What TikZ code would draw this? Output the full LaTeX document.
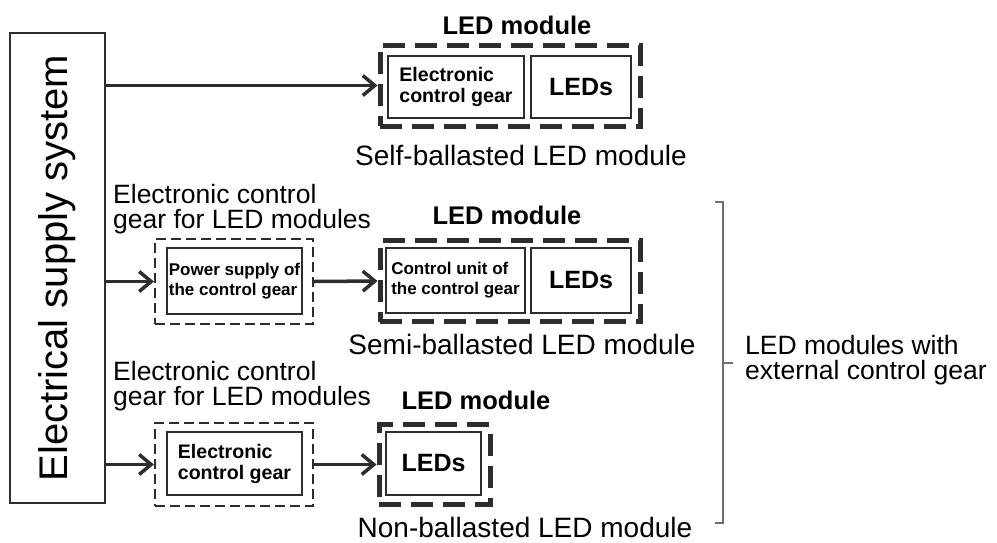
\documentclass[tikz,border=0pt]{standalone}
\usepackage{fontspec}
\setmainfont{Liberation Sans}
\usetikzlibrary{shapes,arrows,arrows.meta,positioning,calc}
\definecolor{linecolor}{RGB}{45,45,45}
\definecolor{bracecolor}{RGB}{110,110,110}

\begin{document}
\begin{tikzpicture}[
    x=1pt, y=-1pt,
    supplybox/.style={rectangle, draw=linecolor, line width=1.5pt, inner sep=0pt},
    innerbox/.style={rectangle, draw=linecolor, line width=1.5pt, inner sep=0pt, align=left},
    modbox/.style={rectangle, draw=linecolor, line width=5pt, dash pattern=on 22pt off 10pt, inner sep=0pt},
    gearbox/.style={rectangle, draw=linecolor, line width=2.2pt, dash pattern=on 10pt off 5pt, inner sep=0pt},
    boxtxt/.style={font=\fontsize{19.6}{21}\selectfont\bfseries},
    smalltxt/.style={font=\fontsize{17}{20}\selectfont\bfseries},
    ledtxt/.style={font=\fontsize{25}{25}\selectfont\bfseries},
    modtitle/.style={font=\fontsize{25.5}{25.5}\selectfont\bfseries},
    caption/.style={font=\fontsize{28}{28}\selectfont},
    gearlabel/.style={font=\fontsize{26.5}{25}\selectfont, align=left, anchor=west, inner sep=0pt},
    arr/.style={-{Straight Barb[length=12pt,width=20pt]}, line width=3.5pt, linecolor}
]
\useasboundingbox (0,0) rectangle (997,542);

% Supply
\node[supplybox, minimum width=95pt, minimum height=470pt] (supply) at (57.5,268) {};
\node[rotate=90, font=\fontsize{40}{40}\selectfont] (supplytxt) at (57.5,268) {Electrical supply system};

% Self-ballasted
\node[modbox, minimum width=260pt, minimum height=81pt] (mod1) at (510,85.5) {};
\node[innerbox, boxtxt, minimum width=136pt, minimum height=62pt] (ecg1) at (456,87) {Electronic\\control gear};
\node[innerbox, ledtxt, minimum width=100pt, minimum height=62pt] (leds1) at (581,87) {LEDs};
\node[modtitle] (title1) at (517,25) {LED module};
\node[caption] (cap1) at (521,155) {Self-ballasted LED module};

% Semi-ballasted
\node[gearlabel] (glabel2) at (113,209) {Electronic control\\gear for LED modules};
\node[gearbox, minimum width=158pt, minimum height=85pt] (psu) at (234,281.5) {};
\node[innerbox, smalltxt, minimum width=135pt, minimum height=66pt] (psuin) at (234.5,281) {Power supply of\\the control gear};
\node[modbox, minimum width=260pt, minimum height=81pt] (mod2) at (510,281) {};
\node[innerbox, smalltxt, minimum width=139pt, minimum height=65pt] (cu) at (455.5,280.5) {Control unit of\\the control gear};
\node[innerbox, ledtxt, minimum width=100pt, minimum height=65pt] (leds2) at (581,280.5) {LEDs};
\node[modtitle] (title2) at (507,215) {LED module};
\node[caption] (cap2) at (522,344) {Semi-ballasted LED module};

% Non-ballasted
\node[gearlabel] (glabel3) at (113,386) {Electronic control\\gear for LED modules};
\node[gearbox, minimum width=158pt, minimum height=83pt] (ecgbox) at (234,464.5) {};
\node[innerbox, boxtxt, minimum width=135pt, minimum height=63pt] (ecg3) at (234.5,463.5) {Electronic\\control gear};
\node[modbox, minimum width=111pt, minimum height=80pt] (mod3) at (434.5,464.5) {};
\node[innerbox, ledtxt, minimum width=95pt, minimum height=63pt] (leds3) at (433.5,463.5) {LEDs};
\node[modtitle] (title3) at (476,400) {LED module};
\node[caption] (cap3) at (525,527) {Non-ballasted LED module};

% Arrows
\draw[arr] (supply.east |- mod1.west) -- (mod1.west);
\draw[arr] (supply.east |- psu.west) -- (psu.west);
\draw[arr] (psu.east) -- (mod2.west);
\draw[arr] (supply.east |- ecgbox.west) -- (ecgbox.west);
\draw[arr] (ecgbox.east) -- (mod3.west);

% Bracket
\coordinate (btop) at (723,202);
\coordinate (bbot) at (723,523);
\coordinate (bmid) at (723,363);
\draw[bracecolor, line width=1.2pt] ($(btop)+(-8,0)$) -- (btop) -- (bbot) -- ($(bbot)+(-8,0)$);
\draw[bracecolor, line width=1.2pt] (bmid) -- ($(bmid)+(10,0)$);
\node[gearlabel] (extlabel) at (745,360) {LED modules with\\external control gear};

\end{tikzpicture}
\end{document}
